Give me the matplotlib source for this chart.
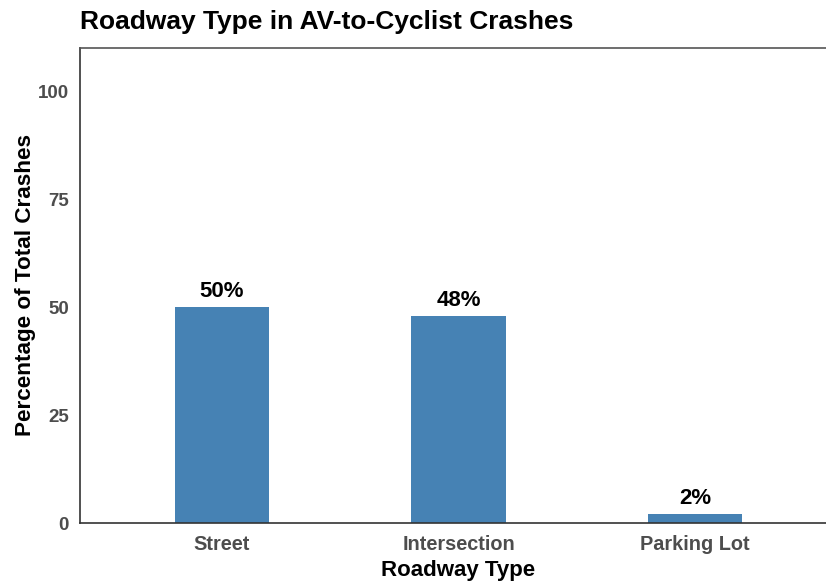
import matplotlib
matplotlib.use("Agg")
import matplotlib.pyplot as plt

categories = ["Street", "Intersection", "Parking Lot"]
percentages = [50, 48, 2]
bar_labels = ["50%", "48%", "2%"]
y_ticks = [0, 25, 50, 75, 100]

plt.rcParams["font.family"] = ["Liberation Sans", "DejaVu Sans"]

fig = plt.figure(figsize=(8.26, 5.83), dpi=100)
ax = fig.add_axes([80 / 826, 1 - 523 / 583, (837 - 80) / 826, (523 - 48) / 583])

x = range(len(categories))
ax.bar(x, percentages, width=0.4, color="#4682B4")
for xi, v, lab in zip(x, percentages, bar_labels):
    ax.text(xi, v + 1.2, lab, ha="center", va="bottom", fontsize=16,
            fontweight="bold", color="black")

ax.set_xlim(-0.6, 2.6)
ax.set_ylim(0, 110)
ax.set_xticks(list(x))
ax.set_xticklabels(categories)
ax.set_yticks(y_ticks)
ax.tick_params(axis="x", length=0, labelsize=14.3, labelcolor="#4d4d4d", pad=9)
ax.tick_params(axis="y", length=0, labelsize=13.5, labelcolor="#4d4d4d", pad=8)
for lab in ax.get_xticklabels() + ax.get_yticklabels():
    lab.set_fontweight("bold")

for s in ["left", "bottom", "top"]:
    ax.spines[s].set_color("#333333")
    ax.spines[s].set_linewidth(1.2)
ax.spines["top"].set_color("#555555")
ax.spines["right"].set_visible(False)

ax.set_xlabel("Roadway Type", fontsize=16, fontweight="bold", labelpad=4)
ax.set_ylabel("Percentage of Total Crashes", fontsize=16.2, fontweight="bold", labelpad=1)
fig.text(80 / 826, 1 - 22 / 583, "Roadway Type in AV-to-Cyclist Crashes",
         fontsize=19, fontweight="bold", ha="left", va="center")

fig.savefig("out.png", dpi=100)
